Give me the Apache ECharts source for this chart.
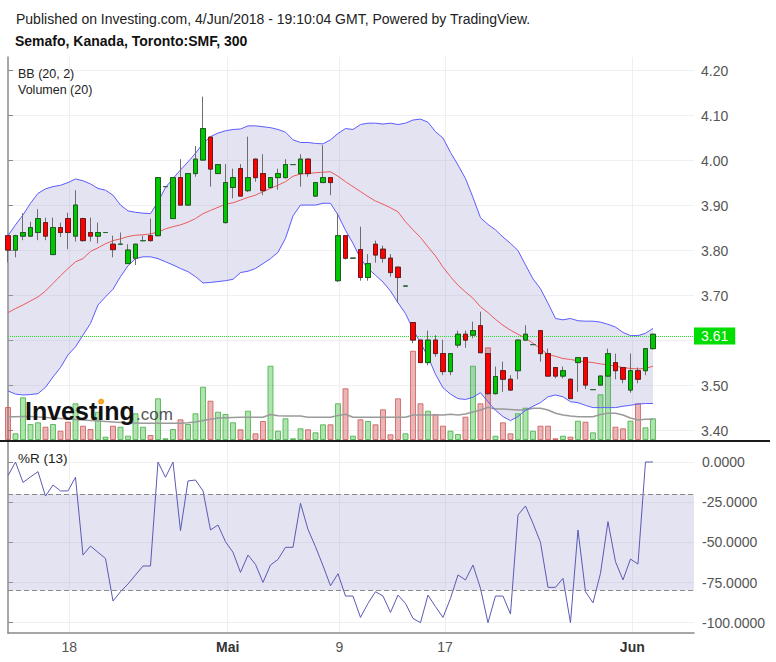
<!DOCTYPE html>
<html><head><meta charset="utf-8">
<script src="https://cdn.jsdelivr.net/npm/echarts@6/dist/echarts.min.js"></script>
<style>html,body{margin:0;padding:0;background:#fff}#c{width:776px;height:662px}</style>
</head><body><div id="c"></div>
<script>
// ---- data ----
const opens  = [3.833,3.801,3.832,3.832,3.840,3.862,3.791,3.851,3.871,3.832,3.871,3.840,3.832,3.840,3.814,3.814,3.771,3.783,3.822,3.833,
                3.833,3.942,3.871,3.962,3.901,3.971,4.001,4.052,3.971,3.862,3.940,3.982,3.933,4.003,3.971,3.940,3.962,3.962,3.991,3.971,
                4.003,3.921,3.951,3.962,3.733,3.833,3.783,3.802,3.740,3.814,3.803,3.783,3.763,3.721,3.640,3.601,3.551,3.601,3.571,3.531,
                3.590,3.614,3.612,3.633,3.571,3.482,3.533,3.514,3.533,3.601,3.591,3.622,3.571,3.540,3.521,3.514,3.551,3.562,3.491,3.501,
                3.521,3.551,3.540,3.490,3.533,3.533,3.582];
const closes = [3.801,3.833,3.840,3.851,3.871,3.832,3.851,3.840,3.840,3.901,3.822,3.832,3.840,3.840,3.802,3.814,3.801,3.814,3.822,3.822,
                3.962,3.942,3.962,3.901,3.971,4.003,4.071,3.981,3.991,3.951,3.962,3.921,3.962,3.962,3.933,3.962,3.971,3.991,3.991,4.003,
                3.971,3.951,3.962,3.951,3.833,3.783,3.783,3.740,3.771,3.790,3.783,3.751,3.740,3.721,3.601,3.551,3.601,3.571,3.531,3.571,
                3.614,3.601,3.622,3.573,3.482,3.520,3.514,3.490,3.601,3.614,3.591,3.571,3.521,3.521,3.533,3.471,3.562,3.501,3.491,3.521,
                3.571,3.533,3.514,3.533,3.514,3.582,3.614];
const lows   = [3.774,3.785,3.823,3.830,3.823,3.823,3.790,3.830,3.803,3.820,3.820,3.820,3.816,3.840,3.785,3.812,3.770,3.768,3.820,3.820,
                3.832,3.942,3.870,3.900,3.900,3.964,4.000,3.942,3.970,3.860,3.916,3.920,3.930,3.953,3.923,3.938,3.935,3.960,3.991,3.942,
                3.964,3.920,3.950,3.923,3.730,3.780,3.783,3.733,3.733,3.773,3.773,3.742,3.684,3.721,3.594,3.550,3.545,3.564,3.523,3.523,
                3.584,3.584,3.605,3.572,3.480,3.480,3.486,3.488,3.514,3.600,3.591,3.553,3.520,3.516,3.516,3.470,3.486,3.492,3.491,3.500,
                3.520,3.514,3.505,3.484,3.505,3.523,3.580];
const highs  = [3.834,3.835,3.883,3.864,3.892,3.873,3.873,3.862,3.884,3.934,3.873,3.873,3.862,3.840,3.833,3.840,3.814,3.815,3.833,3.871,
                3.963,3.942,3.962,4.003,3.972,4.032,4.142,4.052,3.992,3.992,3.982,3.992,4.053,4.004,4.014,3.963,3.982,4.003,3.991,4.014,
                4.005,3.952,4.034,3.963,3.883,3.834,3.783,3.853,3.792,3.822,3.811,3.792,3.764,3.721,3.641,3.602,3.622,3.612,3.602,3.572,
                3.622,3.622,3.642,3.664,3.572,3.542,3.553,3.523,3.602,3.634,3.591,3.623,3.582,3.541,3.542,3.515,3.563,3.563,3.491,3.522,
                3.582,3.571,3.541,3.571,3.540,3.583,3.615];
const volumes = [33,6.7,42.7,16,17.7,13.3,16,9.3,18.3,36.7,14.3,11,28.3,3.3,14.3,13.3,4.3,26.7,13.3,5,
                 41.7,1.7,11,20.7,16,26.7,53.3,39.3,28.3,26,17.7,10.7,29.3,6.7,19,74.3,9.3,21.7,1.7,11.7,
                 10.7,7.7,15.7,15.7,36.7,51.7,4.3,20.7,19,15.7,30.7,5.7,41.7,6.7,89.3,36.7,29.3,26,14.3,9.3,
                 6,23.3,74.3,36.7,92.7,4.3,17.7,6.7,26.7,32.3,9.3,14.3,14.3,1.7,4.3,3.3,19.3,18.3,7.7,45.7,
                 72.7,13.3,11.7,19.3,36.7,12.7,21.7];
const volumeMA = [23.3,23.3,23.5,23.5,23,22.5,22,21.5,21,20.5,20,19.5,19,18.5,18,17.5,17,17,16.8,16.7,
                  16.7,16.7,16.7,16.7,17.2,18,19.5,20.7,22,22.3,22.5,22.7,22.7,22.7,22.7,25.5,24.3,24,24,24,
                  22.7,22.7,22.7,22.7,24.5,25.7,22.7,22.7,22.7,22.7,22.7,22.7,22.7,22.7,25,25,25,25,25,25.7,
                  25,26,28,30,32.7,31,31,30.5,30,30,31.7,31.7,30,26.7,25,24,23.3,23.3,23.3,25.5,
                  26.7,26.7,25,22,20,20.7,20.7];
const bbUpper = [3.833,3.857,3.879,3.905,3.927,3.937,3.942,3.945,3.951,3.959,3.955,3.948,3.938,3.934,3.923,3.901,3.888,3.885,3.883,3.882,
                 3.908,3.940,3.960,3.979,3.997,4.016,4.038,4.053,4.061,4.066,4.069,4.070,4.077,4.077,4.075,4.073,4.069,4.063,4.046,4.040,
                 4.040,4.038,4.037,4.046,4.060,4.071,4.069,4.080,4.083,4.083,4.081,4.083,4.080,4.083,4.090,4.092,4.085,4.064,4.050,4.018,
                 3.990,3.960,3.918,3.873,3.858,3.846,3.830,3.816,3.800,3.768,3.737,3.715,3.683,3.649,3.646,3.649,3.644,3.643,3.643,3.641,
                 3.636,3.630,3.618,3.611,3.611,3.616,3.627];
const bbMiddle = [3.662,3.671,3.679,3.688,3.697,3.710,3.727,3.744,3.760,3.775,3.782,3.798,3.806,3.815,3.822,3.826,3.831,3.834,3.835,3.837,
                  3.841,3.848,3.853,3.857,3.863,3.871,3.882,3.889,3.896,3.903,3.906,3.912,3.918,3.923,3.931,3.938,3.945,3.953,3.965,3.970,
                  3.971,3.973,3.974,3.975,3.965,3.953,3.942,3.931,3.920,3.910,3.903,3.895,3.886,3.864,3.846,3.829,3.808,3.788,3.763,3.742,
                  3.723,3.708,3.694,3.675,3.662,3.647,3.634,3.623,3.614,3.605,3.594,3.582,3.569,3.565,3.560,3.558,3.555,3.553,3.551,3.548,
                  3.546,3.543,3.540,3.538,3.537,3.538,3.543];
const bbLower = [3.488,3.481,3.479,3.480,3.482,3.496,3.519,3.540,3.568,3.586,3.612,3.638,3.679,3.697,3.714,3.742,3.766,3.782,3.786,3.786,
                 3.782,3.775,3.768,3.760,3.753,3.742,3.728,3.729,3.731,3.733,3.736,3.751,3.754,3.760,3.771,3.782,3.796,3.827,3.877,3.901,
                 3.901,3.901,3.905,3.905,3.879,3.845,3.816,3.782,3.760,3.745,3.730,3.710,3.684,3.660,3.625,3.595,3.564,3.525,3.495,3.481,
                 3.471,3.469,3.474,3.484,3.464,3.445,3.431,3.422,3.431,3.445,3.454,3.462,3.475,3.479,3.475,3.464,3.462,3.456,3.451,3.451,
                 3.451,3.451,3.454,3.456,3.459,3.460,3.460];
const williamsR = [-8.5,0,-12.7,-9.3,-6.0,-21.2,-14.3,-18.0,-18.0,-9.5,-57.9,-52.3,-56.2,-60.0,-86.5,-80.7,-75.9,-70.3,-64.7,-64.7,
                   0,-9.5,0,-42.7,-11.8,-11.2,-18.0,-42.3,-39.2,-49.6,-56.2,-68.7,-57.9,-63.7,-74.9,-64.1,-60.6,-53.1,-53.1,-25.7,
                   -41.9,-52.7,-64.5,-77.0,-69.5,-83.4,-83.4,-96.7,-88.0,-80.7,-83.4,-93.6,-82.8,-88.0,-97.3,-100,-82.8,-90.0,-96.7,-84.9,
                   -70.3,-73.4,-64.1,-78.6,-100,-83.4,-83.4,-94.6,-33.0,-27.4,-38.2,-50.0,-78.0,-78.0,-72.4,-100,-42.3,-80.7,-87.6,-69.3,
                   -37.1,-62.0,-73.4,-60.4,-63.5,0,0];
const priceGrid = [3.4,3.5,3.6,3.7,3.8,3.9,4.0,4.1,4.2];
const priceLabels = [3.4,3.5,3.7,3.8,3.9,4.0,4.1,4.2]; // 3.60 sits behind the last-price box
const rTicks = [0,-25,-50,-75,-100];
const rBands = [-20,-80];
const dateTickPos = [8.17,29.29,44.18,58.27,83.24];
const dateTickLabels = ['18','Mai','9','17','Jun'];
const dateTickBold = [false,true,false,false,true];

// ---- chart ----
const FONT = "'Liberation Sans', Arial, Helvetica, sans-serif";
const chart = echarts.init(document.getElementById('c'), null, {renderer:'svg', width:776, height:662});
const idx = opens.map((_, i) => i);
const lastClose = closes[closes.length - 1];
const X_MAX = 91.47;
const GRID_L = 8, GRID_R = 82;

function xAxis(gi, split, labels) {
  return {
    type:'value', gridIndex:gi, min:0, max:X_MAX,
    axisLine:{show: labels, onZero:false, lineStyle:{color:'#8a8a8a', width:1.5}},
    axisTick:{show:false, customValues: dateTickPos},
    axisLabel: labels ? {
      show:true, customValues: dateTickPos, margin:7,
      formatter: function (v) {
        let j = 0;
        for (let k = 1; k < dateTickPos.length; k++) if (Math.abs(dateTickPos[k]-v) < Math.abs(dateTickPos[j]-v)) j = k;
        return dateTickBold[j] ? '{b|' + dateTickLabels[j] + '}' : '{n|' + dateTickLabels[j] + '}';
      },
      rich:{
        b:{fontWeight:'bold', color:'#333', fontSize:14, fontFamily:FONT},
        n:{color:'#555', fontSize:14, fontFamily:FONT}
      }
    } : {show:false},
    splitLine:{show: split, lineStyle:{color:'#efeff2', width:1}}
  };
}

const upVol = {color:'rgba(76,196,76,0.45)', borderColor:'rgba(60,170,60,0.75)', borderWidth:1};
const dnVol = {color:'rgba(205,80,80,0.42)', borderColor:'rgba(200,80,80,0.75)', borderWidth:1};

const option = {
  animation:false,
  backgroundColor:'#fff',
  textStyle:{fontFamily:FONT},
  grid:[
    {left:GRID_L, right:GRID_R, top:57, height:383},
    {left:GRID_L, right:GRID_R, top:340, height:100},
    {left:GRID_L, right:GRID_R, top:442, height:191}
  ],
  xAxis:[ xAxis(0, true, false), xAxis(1, false, false), xAxis(2, true, true) ],
  yAxis:[
    {type:'value', gridIndex:0, position:'right', min:3.379, max:4.23,
     axisLine:{show:true, lineStyle:{color:'#8a8a8a', width:1.5}},
     axisTick:{show:true, length:5, customValues:priceGrid, lineStyle:{color:'#8a8a8a'}},
     axisLabel:{customValues:priceLabels, formatter:v => v.toFixed(2), color:'#555', fontSize:14, fontFamily:FONT, margin:7},
     splitLine:{show:true, lineStyle:{color:'#f0f0f2'}}},
    {type:'value', gridIndex:1, min:0, max:100, show:false, splitLine:{show:false}},
    {type:'value', gridIndex:2, position:'right', min:-106.4, max:12.45,
     axisLine:{show:true, lineStyle:{color:'#8a8a8a', width:1.5}},
     axisTick:{show:true, length:5, customValues:rTicks, lineStyle:{color:'#8a8a8a'}},
     axisLabel:{customValues:rTicks, formatter:v => v.toFixed(4), color:'#555', fontSize:14, fontFamily:FONT, margin:8},
     splitLine:{show:true, lineStyle:{color:'#f0f0f2'}}}
  ],
  series:[
    {type:'custom', name:'BB fill', xAxisIndex:0, yAxisIndex:0, z:1, silent:true, clip:true,
     data: idx.map(i => [i, bbUpper[i], bbLower[i]]),
     encode:{x:0, y:[1,2]},
     renderItem:function(params, api){
       if (params.dataIndex !== 0) return;
       const up = idx.map(i => api.coord([i, bbUpper[i]]));
       const lo = idx.map(i => api.coord([i, bbLower[i]])).reverse();
       return {type:'polygon', shape:{points: up.concat(lo)}, style:{fill:'rgba(160,160,210,0.29)'}};
     }},
    {type:'bar', name:'Volumen', xAxisIndex:1, yAxisIndex:1, barWidth:6, z:2, silent:true,
     data: idx.map(i => ({value:[i, volumes[i]], itemStyle: closes[i] >= opens[i] ? upVol : dnVol}))},
    {type:'line', name:'Volumen MA', xAxisIndex:1, yAxisIndex:1, z:3, silent:true, symbol:'none',
     data: idx.map(i => [i, volumeMA[i]]), lineStyle:{color:'#9a9a9a', width:1.6}},
    {type:'line', name:'BB upper', xAxisIndex:0, yAxisIndex:0, z:4, silent:true, symbol:'none',
     data: idx.map(i => [i, bbUpper[i]]), lineStyle:{color:'#5c5cff', width:1}},
    {type:'line', name:'BB lower', xAxisIndex:0, yAxisIndex:0, z:4, silent:true, symbol:'none',
     data: idx.map(i => [i, bbLower[i]]), lineStyle:{color:'#5c5cff', width:1}},
    {type:'line', name:'BB basis', xAxisIndex:0, yAxisIndex:0, z:4, silent:true, symbol:'none',
     data: idx.map(i => [i, bbMiddle[i]]), lineStyle:{color:'#ec5b5b', width:1}},
    {type:'candlestick', name:'wicks', xAxisIndex:0, yAxisIndex:0, z:5, silent:true, clip:true, barWidth:5,
     encode:{x:0, y:[1,2,3,4]},
     data: idx.map(i => [i, opens[i], closes[i], lows[i], highs[i]]),
     itemStyle:{color:'#00c800', color0:'#ff0000', borderColor:'#6e6e6e', borderColor0:'#6e6e6e', borderColorDoji:'#6e6e6e', borderWidth:1}},
    {type:'candlestick', name:'SMF', xAxisIndex:0, yAxisIndex:0, z:6, silent:true, clip:true, barWidth:5,
     encode:{x:0, y:[1,2,3,4]},
     data: idx.map(i => [i, opens[i], closes[i], Math.min(opens[i], closes[i]), Math.max(opens[i], closes[i])]),
     itemStyle:{color:'#00c800', color0:'#ff0000', borderColor:'#1f5a1f', borderColor0:'#6a1c1c', borderColorDoji:'#2a6a3a', borderWidth:1},
     markLine:{silent:true, symbol:['none','none'], animation:false,
       data:[{yAxis:lastClose}],
       lineStyle:{color:'#22dd22', type:'dotted', width:1},
       label:{show:true, position:'end', distance:0, formatter: lastClose.toFixed(2), color:'#fff',
              backgroundColor:'#00dd00', padding:[2,7,1,7], fontSize:14, fontFamily:FONT}}},
    {type:'line', name:'%R (13)', xAxisIndex:2, yAxisIndex:2, z:4, silent:true, symbol:'none',
     data: idx.map(i => [i, williamsR[i]]), lineStyle:{color:'#5a5ab4', width:1},
     markArea:{silent:true, itemStyle:{color:'rgba(160,160,210,0.29)'}, data:[[{yAxis:rBands[0]},{yAxis:rBands[1]}]]},
     markLine:{silent:true, symbol:['none','none'], label:{show:false},
       lineStyle:{color:'#8a8a8a', type:[5,3], width:1},
       data: rBands.map(v => ({yAxis:v}))}}
  ],
  graphic:[
    {type:'rect', shape:{x:0, y:440, width:770, height:2}, style:{fill:'#1a1a1a'}, z:100, silent:true},
    {type:'text', x:16, y:18.5, z:100, silent:true, style:{text:'Published on Investing.com, 4/Jun/2018 - 19:10:04 GMT, Powered by TradingView.', font:'14px ' + FONT, fill:'#222', textVerticalAlign:'middle', verticalAlign:'middle'}},
    {type:'text', x:15, y:40.8, z:100, silent:true, style:{text:'Semafo, Kanada, Toronto:SMF, 300', font:'bold 14px ' + FONT, fill:'#111', textVerticalAlign:'middle', verticalAlign:'middle'}},
    {type:'text', x:18, y:74.3, z:100, silent:true, style:{text:'BB (20, 2)', font:'12.5px ' + FONT, lineHeight:12, fill:'#222', textVerticalAlign:'middle', verticalAlign:'middle'}},
    {type:'text', x:18, y:89.6, z:100, silent:true, style:{text:'Volumen (20)', font:'12.5px ' + FONT, lineHeight:12, fill:'#222', textVerticalAlign:'middle', verticalAlign:'middle'}},
    {type:'text', x:18, y:458, z:100, silent:true, style:{text:'%R (13)', font:'13.5px ' + FONT, fill:'#222', textVerticalAlign:'middle', verticalAlign:'middle'}},
    {type:'text', x:25, y:411.3, z:100, silent:true, style:{text:'Investing', font:'bold 25px ' + FONT, fill:'#111', textVerticalAlign:'middle', verticalAlign:'middle'}},
    {type:'text', x:136, y:414.2, z:100, silent:true, style:{text:'.com', font:'17px ' + FONT, fill:'#555', textVerticalAlign:'middle', verticalAlign:'middle'}},
    {type:'circle', shape:{cx:101.2, cy:401.5, r:3}, style:{fill:'#f5a623'}, z:101, silent:true}
  ]
};
chart.setOption(option);
</script>
</body></html>
